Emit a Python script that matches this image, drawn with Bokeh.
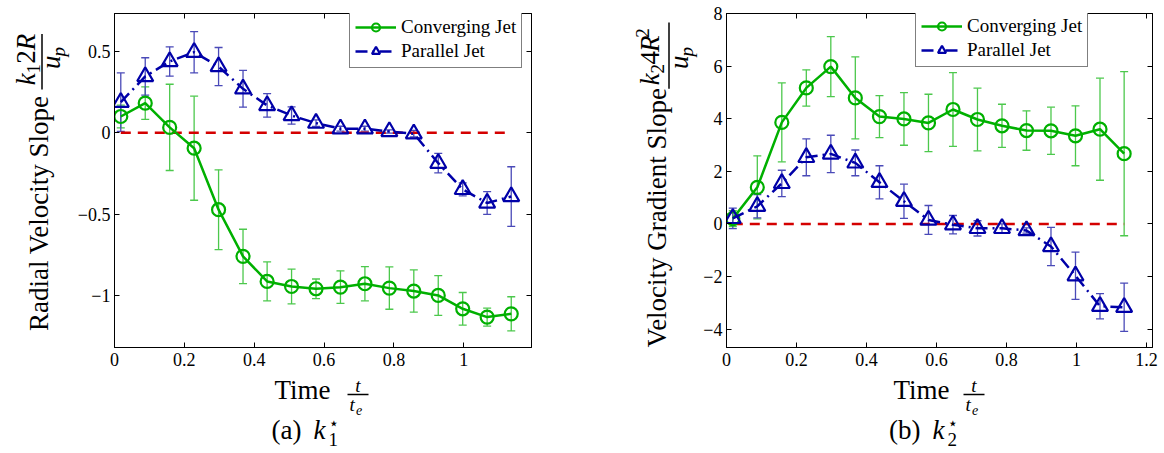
import math
from bokeh.plotting import figure
from bokeh.layouts import row, column
from bokeh.models import (ColumnDataSource, Whisker, TeeHead, Legend, LegendItem,
                          FixedTicker, LinearAxis, Range1d)
from bokeh.core.properties import value
from bokeh.embed import file_html
from bokeh.resources import INLINE

# ---------------- data ----------------
time = [0.018, 0.088, 0.158, 0.228, 0.298, 0.368, 0.437, 0.507, 0.577,
        0.647, 0.717, 0.787, 0.857, 0.927, 0.997, 1.067, 1.136]

k1_conv = [0.100, 0.182, 0.033, -0.095, -0.473, -0.760, -0.914, -0.945, -0.959,
           -0.949, -0.928, -0.955, -0.973, -1.000, -1.082, -1.133, -1.113]
k1_conv_err = [0.07, 0.10, 0.265, 0.32, 0.245, 0.167, 0.12, 0.107, 0.06,
               0.10, 0.105, 0.13, 0.13, 0.122, 0.10, 0.055, 0.105]
k1_par = [0.188, 0.346, 0.438, 0.495, 0.407, 0.270, 0.168, 0.106, 0.059,
          0.025, 0.025, 0.008, -0.006, -0.187, -0.348, -0.432, -0.392]
k1_par_err = [0.18, 0.115, 0.09, 0.127, 0.117, 0.113, 0.072, 0.053, 0.02,
              0.015, 0.015, 0.01, 0.02, 0.06, 0.04, 0.07, 0.183]

k2_conv = [0.20, 1.39, 3.86, 5.17, 5.98, 4.79, 4.08, 3.99, 3.84,
           4.35, 3.97, 3.73, 3.55, 3.54, 3.35, 3.60, 2.67]
k2_conv_err = [0.30, 1.2, 1.5, 0.69, 1.14, 1.56, 0.8, 1.0, 1.09,
               1.4, 1.19, 0.82, 0.75, 0.9, 1.14, 1.94, 3.12]
k2_par = [0.21, 0.67, 1.54, 2.53, 2.66, 2.32, 1.58, 0.86, 0.15,
          -0.03, -0.17, -0.17, -0.25, -0.86, -1.97, -3.13, -3.17]
k2_par_err = [0.39, 0.44, 0.5, 0.7, 0.71, 0.49, 0.63, 0.65, 0.55,
              0.35, 0.29, 0.17, 0.1, 0.73, 0.9, 0.48, 0.92]

series_names = ["Converging Jet", "Parallel Jet"]

x_ticks_a = [0, 0.2, 0.4, 0.6, 0.8, 1]
x_labels_a = ["0", "0.2", "0.4", "0.6", "0.8", "1"]
y_ticks_a = [-1, -0.5, 0, 0.5]
y_labels_a = ["\u22121", "\u22120.5", "0", "0.5"]

x_ticks_b = [0, 0.2, 0.4, 0.6, 0.8, 1, 1.2]
x_labels_b = ["0", "0.2", "0.4", "0.6", "0.8", "1", "1.2"]
y_ticks_b = [-4, -2, 0, 2, 4, 6, 8]
y_labels_b = ["\u22124", "\u22122", "0", "2", "4", "6", "8"]

# ---------------- style ----------------
GREEN = "#00b000"
GREEN_ERR = "#4cc84c"
BLUE = "#0000a8"
BLUE_ERR = "#4a4ab8"
RED = "#d40000"
FONT = "Liberation Serif"
RA = math.pi / 2
TOP_H = 373
MID = 0.3375   # distance (in em) from the em-box middle to the alphabetic baseline


def make_plot(width, border_l, border_r, xr, yr, xt, xl, yt, yl):
    p = figure(width=width, height=TOP_H,
               x_range=Range1d(*xr), y_range=Range1d(*yr),
               output_backend="svg", toolbar_location=None,
               min_border_left=border_l, min_border_right=border_r,
               min_border_top=13, min_border_bottom=TOP_H - 13 - 334)
    p.xgrid.visible = False
    p.ygrid.visible = False
    p.outline_line_color = "black"
    p.outline_line_width = 1
    p.background_fill_color = "white"
    p.border_fill_color = "white"
    for ax, ticks, labels, so in ((p.xaxis[0], xt, xl, 5), (p.yaxis[0], yt, yl, 4)):
        ax.ticker = FixedTicker(ticks=ticks)
        ax.major_label_overrides = {t: s for t, s in zip(ticks, labels)}
        ax.major_label_text_font = FONT
        ax.major_label_text_font_size = "18px"
        ax.major_label_text_color = "black"
        ax.major_tick_in = 5
        ax.major_tick_out = 0
        ax.minor_tick_line_color = None
        ax.axis_line_color = "black"
        ax.major_tick_line_color = "black"
        ax.major_label_standoff = so
    for ticks, side in ((yt, "right"), (xt, "above")):
        ax = LinearAxis(ticker=FixedTicker(ticks=ticks),
                        major_label_text_color=None,
                        major_label_text_font_size="1px",
                        major_label_standoff=0, major_tick_in=5, major_tick_out=0,
                        minor_tick_line_color=None, axis_line_color="black",
                        major_tick_line_color="black")
        p.add_layout(ax, side)
    return p


def draw_series(p, conv, conv_err, par, par_err, legend_loc):
    src_c = ColumnDataSource(dict(x=time, y=conv,
                                  upper=[v + e for v, e in zip(conv, conv_err)],
                                  lower=[v - e for v, e in zip(conv, conv_err)]))
    src_p = ColumnDataSource(dict(x=time, y=par,
                                  upper=[v + e for v, e in zip(par, par_err)],
                                  lower=[v - e for v, e in zip(par, par_err)]))
    for src, col in ((src_c, GREEN_ERR), (src_p, BLUE_ERR)):
        p.add_layout(Whisker(source=src, base="x", upper="upper", lower="lower",
                             line_color=col, line_width=1.3,
                             upper_head=TeeHead(size=8, line_color=col, line_width=1.3),
                             lower_head=TeeHead(size=8, line_color=col, line_width=1.3)))
    p.line(x=[time[0], time[-1]], y=[0, 0], line_color=RED, line_width=2.5, line_dash="10 7")
    gl = p.line("x", "y", source=src_c, line_color=GREEN, line_width=2.5)
    gs = p.scatter("x", "y", source=src_c, marker="circle", size=13, line_color=GREEN,
                   line_width=2.2, fill_color=None)
    bl = p.line("x", "y", source=src_p, line_color=BLUE, line_width=2.5,
                line_dash="12 5 2 5")
    bs = p.scatter("x", "y", source=src_p, marker="triangle", size=16, line_color=BLUE,
                   line_width=2.2, fill_color=None)
    leg = Legend(items=[LegendItem(label=series_names[0], renderers=[gl, gs]),
                        LegendItem(label=series_names[1], renderers=[bl, bs])],
                 location=legend_loc, label_text_font=FONT, label_text_font_size="19px",
                 label_text_color="black", glyph_width=41, glyph_height=20,
                 label_height=20, label_standoff=5, spacing=2, padding=5, margin=0,
                 border_line_color="black", border_line_width=1,
                 background_fill_color="white", background_fill_alpha=1.0)
    p.add_layout(leg)


def text_fig(x0, x1, y0, y1):
    # a frameless figure; x is page pixels, y is minus page pixels
    p = figure(width=x1 - x0, height=y1 - y0,
               x_range=Range1d(x0, x1), y_range=Range1d(-y1, -y0),
               x_axis_location=None, y_axis_location=None,
               output_backend="svg", toolbar_location=None, min_border=0,
               min_border_left=0, min_border_right=0, min_border_top=0,
               min_border_bottom=0)
    p.grid.visible = False
    p.outline_line_color = None
    p.background_fill_color = "white"
    p.border_fill_color = "white"
    return p


def txt(p, x, py, s, size=27, italic=False, angle=0.0, align="left", font=FONT):
    # (x, py) is where the alphabetic baseline should be; anchor on the em-box middle
    off = MID * size
    if angle == 0:
        ax_, ay_ = x, py - off
    else:
        ax_, ay_ = x - off, py
    p.text(x=[ax_], y=[-ay_], text=[s], angle=angle, text_font=value(font),
           text_font_size=value(f"{size}px"),
           text_font_style=value("italic" if italic else "normal"),
           text_align=value(align), text_baseline=value("middle"),
           text_color="black")


def rule(p, xa, pya, xb, pyb):
    p.line(x=[xa, xb], y=[-pya, -pyb], line_color="black", line_width=1.5)


# ---------------- panel (a) ----------------
pa = make_plot(546, 39, 89, (0, 1.194), (-1.32, 0.733),
               x_ticks_a, x_labels_a, y_ticks_a, y_labels_a)
draw_series(pa, k1_conv, k1_conv_err, k1_par, k1_par_err, (235, 279))

ya = text_fig(0, 74, 0, TOP_H)
txt(ya, 48, 223, "Radial Velocity Slope", angle=RA, align="center")
txt(ya, 35, 80, "k", italic=True, angle=RA)
txt(ya, 39, 67, "1", size=19, angle=RA)
txt(ya, 35, 56, "2", angle=RA)
txt(ya, 35, 41, "R", italic=True, angle=RA)
rule(ya, 41.5, 85, 41.5, 23)
txt(ya, 60, 62, "u", italic=True, angle=RA)
txt(ya, 64, 48, "p", size=19, italic=True, angle=RA)

# ---------------- panel (b) ----------------
pb = make_plot(464, 25, 12, (0, 1.217), (-4.7, 8.0),
               x_ticks_b, x_labels_b, y_ticks_b, y_labels_b)
draw_series(pb, k2_conv, k2_conv_err, k2_par, k2_par_err, (189, 280))

yb = text_fig(620, 700, 0, TOP_H)
txt(yb, 666, 228, "Velocity Gradient Slope", angle=RA, align="center")
txt(yb, 659, 80, "k", italic=True, angle=RA)
txt(yb, 663, 67, "2", size=19, angle=RA)
txt(yb, 659, 57, "4", angle=RA)
txt(yb, 659, 43, "R", italic=True, angle=RA)
txt(yb, 648, 27, "2", size=19, angle=RA)
rule(yb, 668.5, 84, 668.5, 10)
txt(yb, 688, 62, "u", italic=True, angle=RA)
txt(yb, 692, 48, "p", size=19, italic=True, angle=RA)

# ---------------- bottom strip (x labels and sub-captions) ----------------
bf = text_fig(0, 1164, TOP_H, 453)
for x_time, x_frac, cap, k_sub in ((273, 347, "(a)", "1"), (892, 963, "(b)", "2")):
    txt(bf, x_time + 57, 399, "Time", align="right")
    txt(bf, x_frac + 10.5, 391, "t", size=19, italic=True, align="center")
    rule(bf, x_frac, 394, x_frac + 21, 394)
    txt(bf, x_frac + 2, 410, "t", size=19, italic=True)
    txt(bf, x_frac + 8.5, 414, "e", size=14, italic=True)
    txt(bf, x_time + 28, 439, cap, align="right")
    txt(bf, x_time + 40, 439, "k", italic=True)
    txt(bf, x_time + 55, 445, k_sub, size=19)
    txt(bf, x_time + 55, 428, "\u22c6", size=17, font="DejaVu Sans")

layout = column(row(ya, pa, yb, pb), bf)
open("out.html", "w").write(file_html(layout, INLINE))
